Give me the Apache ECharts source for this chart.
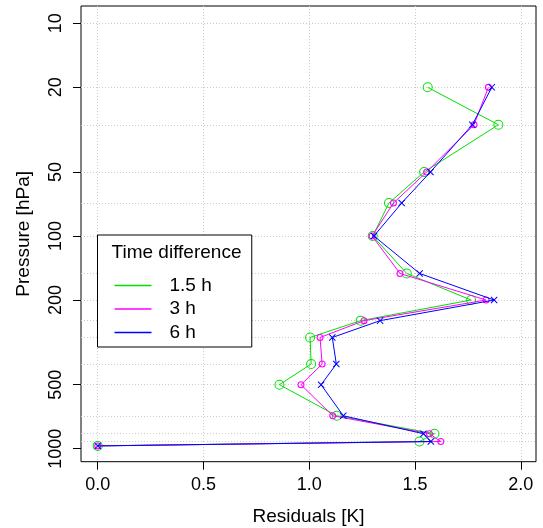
<!DOCTYPE html>
<html>
<head>
<meta charset="utf-8">
<script src="https://cdn.jsdelivr.net/npm/echarts@6/dist/echarts.min.js"></script>
<style>
html,body{margin:0;padding:0;background:#fff;}
#chart{width:543px;height:528px;}
</style>
</head>
<body>
<div id="chart"></div>
<script>
// pressure levels (hPa)
var levels = [20, 30, 50, 70, 100, 150, 200, 250, 300, 400, 500, 700, 850, 925, 970];
// residuals [K] for each time difference
var res15 = [1.560, 1.894, 1.543, 1.377, 1.300, 1.461, 1.765, 1.243, 1.004, 1.009, 0.859, 1.130, 1.592, 1.521, 0.0];
var res3  = [1.847, 1.779, 1.555, 1.398, 1.297, 1.429, 1.836, 1.259, 1.051, 1.061, 0.961, 1.111, 1.568, 1.622, 0.0];
var res6  = [1.863, 1.771, 1.573, 1.437, 1.306, 1.522, 1.874, 1.335, 1.109, 1.128, 1.056, 1.161, 1.540, 1.575, 0.0];
var seriesNames = ['1.5 h', '3 h', '6 h'];
var yTickLabels = [10, 20, 50, 100, 200, 500, 1000];
var yGridLevels = [10, 20, 30, 50, 70, 100, 150, 200, 250, 300, 400, 500, 700, 850, 925];
var xTickLabels = [0, 0.5, 1, 1.5, 2];

var FONT = '"Liberation Sans", Arial, Helvetica, sans-serif';
var ringBig = 'path://M0,-10A10,10,0,1,1,0,10A10,10,0,1,1,0,-10ZM0,-8A8,8,0,1,0,0,8A8,8,0,1,0,0,-8Z';
var ringSmall = 'path://M0,-10A10,10,0,1,1,0,10A10,10,0,1,1,0,-10ZM0,-7A7,7,0,1,0,0,7A7,7,0,1,0,0,-7Z';
var cross = 'path://M0,1L1,0L5,4L9,0L10,1L6,5L10,9L9,10L5,6L1,10L0,9L4,5Z';

function pairs(xs) { return xs.map(function (v, i) { return [v, levels[i]]; }); }

var colors = ['#00e000', '#ff00ff', '#0000ff'];
var gridStyle = {color: '#cccccc', type: [1, 2], width: 1};
var xMin = -0.079, xMax = 2.072;
var yMin = 8.292, yMax = 1151;

var chart = echarts.init(document.getElementById('chart'), null, {renderer: 'canvas'});
chart.setOption({
  animation: false,
  backgroundColor: '#fff',
  color: colors,
  grid: {
    left: 81, top: 6, right: 7, bottom: 66.3,
    show: true, borderColor: '#000', borderWidth: 1, backgroundColor: 'transparent',
    containLabel: false, outerBoundsMode: 'none'
  },
  xAxis: {
    type: 'value', min: xMin, max: xMax,
    name: 'Residuals [K]', nameLocation: 'middle', nameGap: 46,
    nameTextStyle: {fontFamily: FONT, fontSize: 19, color: '#000'},
    axisLine: {show: false, onZero: false},
    axisTick: {show: true, length: 8, customValues: xTickLabels, lineStyle: {color: '#000'}},
    axisLabel: {show: true, customValues: xTickLabels, margin: 14, fontFamily: FONT, fontSize: 18, color: '#000',
      formatter: function (v) { return Number(v).toFixed(1); }},
    splitLine: {show: true, lineStyle: gridStyle}
  },
  yAxis: [{
    type: 'log', inverse: true, min: yMin, max: yMax, position: 'left',
    name: 'Pressure [hPa]', nameLocation: 'middle', nameGap: 48,
    nameTextStyle: {fontFamily: FONT, fontSize: 19, color: '#000'},
    axisLine: {show: false, onZero: false},
    axisTick: {show: true, length: 8, customValues: yTickLabels, lineStyle: {color: '#000'}},
    axisLabel: {show: true, rotate: 90, customValues: yTickLabels, margin: 16, fontFamily: FONT, fontSize: 18, color: '#000',
      formatter: function (v) { return String(Math.round(v)); }},
    splitLine: {show: false}
  }, {
    type: 'log', inverse: true, min: yMin, max: yMax, position: 'right',
    axisLine: {show: false, onZero: false},
    axisTick: {show: false, customValues: yGridLevels},
    axisLabel: {show: false},
    splitLine: {show: true, lineStyle: gridStyle}
  }],
  legend: {
    orient: 'vertical', left: 97.5, top: 235,
    padding: [41, 40, 5, 17],
    borderColor: '#000', borderWidth: 1, backgroundColor: '#fff',
    icon: 'rect', itemWidth: 37, itemHeight: 1.5, itemGap: 4.5,
    textStyle: {fontFamily: FONT, fontSize: 19, color: '#000', padding: [0, 0, 0, 13]},
    data: seriesNames
  },
  graphic: [{
    type: 'text', x: 176.5, y: 253, z: 100,
    style: {text: 'Time difference', fontFamily: FONT, fontSize: 19, fill: '#000', align: 'center', verticalAlign: 'middle'}
  }],
  series: [{
    name: 'grid-top', type: 'line', yAxisIndex: 0, silent: true, z: 1,
    data: [[xMin, yGridLevels[0]], [xMax, yGridLevels[0]]],
    symbol: 'none', lineStyle: gridStyle, itemStyle: {color: '#cccccc'}
  }, {
    name: seriesNames[0], type: 'line', data: pairs(res15), yAxisIndex: 0,
    symbol: ringBig, symbolSize: 10, lineStyle: {width: 1, color: colors[0]}, itemStyle: {color: colors[0]}, z: 2
  }, {
    name: seriesNames[1], type: 'line', data: pairs(res3), yAxisIndex: 0,
    symbol: ringSmall, symbolSize: 7, lineStyle: {width: 1, color: colors[1]}, itemStyle: {color: colors[1]}, z: 3
  }, {
    name: seriesNames[2], type: 'line', data: pairs(res6), yAxisIndex: 0,
    symbol: cross, symbolSize: 7, lineStyle: {width: 1, color: colors[2]}, itemStyle: {color: colors[2]}, z: 4
  }]
});
</script>
</body>
</html>
